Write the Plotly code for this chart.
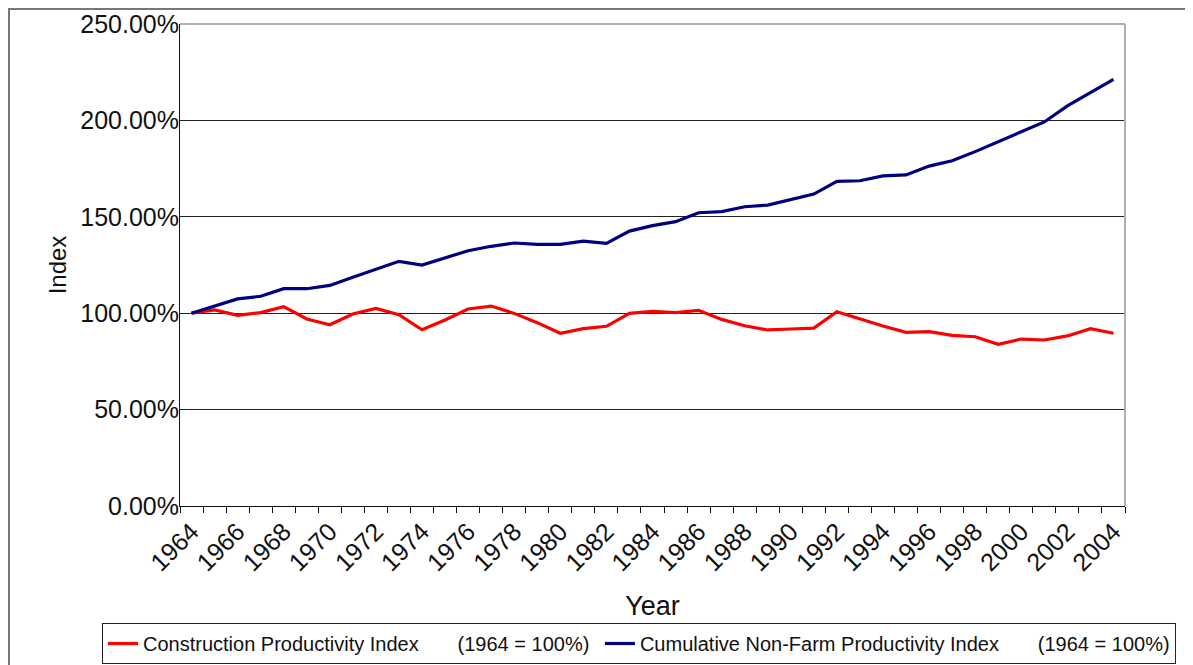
import plotly.graph_objects as go

years = list(range(1964, 2005))
construction = [100.0, 101.7, 98.9, 100.3, 103.4, 97.0, 94.0, 99.6, 102.5, 99.2,
                91.4, 96.5, 102.2, 103.7, 99.9, 95.1, 89.6, 92.0, 93.2, 99.9,
                100.9, 100.3, 101.5, 96.8, 93.5, 91.3, 91.8, 92.3, 100.8, 97.0,
                93.4, 90.1, 90.4, 88.5, 87.8, 83.9, 86.6, 86.1, 88.2, 92.0, 89.6]
nonfarm = [100.0, 103.7, 107.4, 108.8, 112.7, 112.7, 114.4, 118.6, 122.9, 126.9,
           125.0, 128.5, 132.4, 134.7, 136.4, 135.7, 135.7, 137.4, 136.2, 142.6,
           145.4, 147.5, 152.1, 152.7, 155.2, 156.1, 159.1, 161.8, 168.4, 168.7,
           171.2, 171.7, 176.3, 179.1, 183.8, 189.0, 194.0, 199.2, 207.5, 214.4, 221.3]
tick_years = list(range(1964, 2005, 2))
y_ticks = [0, 50, 100, 150, 200, 250]

sp = "\u00a0" * 7
names = ["Construction Productivity Index" + sp + "(1964 = 100%)" + "\u00a0",
         "Cumulative Non-Farm Productivity Index" + sp + "(1964 = 100%)"]

FONT = "Liberation Sans, Arial, sans-serif"
INK = "#111111"

fig = go.Figure()
fig.add_trace(go.Scatter(x=years, y=construction, mode="lines", name=names[0],
                         line=dict(color="#FF0000", width=3.2)))
fig.add_trace(go.Scatter(x=years, y=nonfarm, mode="lines", name=names[1],
                         line=dict(color="#000080", width=3.2)))

# page body has an 8px offset; figure coordinates = screen - 8
W, H = 1185, 657
L, R, T, B = 172, 1117, 16, 498
pw, ph = R - L, B - T

def px(x):
    return (x - 8 - L) / pw

def py(y):
    return (B - (y - 8)) / ph

fig.update_layout(
    width=W, height=H,
    margin=dict(l=L, r=W - R, t=T, b=H - B, pad=0, autoexpand=False),
    paper_bgcolor="white", plot_bgcolor="white",
    font=dict(family=FONT, color=INK),
    showlegend=True,
    legend=dict(orientation="h", x=px(102), xanchor="left", y=py(623), yanchor="top",
                bordercolor="#222222", borderwidth=1, bgcolor="white",
                font=dict(size=20, family=FONT, color=INK),
                itemwidth=30, tracegroupgap=0),
    xaxis=dict(range=[1963.5, 2004.5], tickmode="array", tickvals=tick_years,
               ticktext=[str(y) for y in tick_years], tickangle=-45,
               ticks="", showgrid=False, zeroline=False, automargin=False,
               showline=True, linecolor=INK, linewidth=1,
               tickfont=dict(size=25, family=FONT, color=INK),
               minor=dict(ticks="outside", ticklen=6, tickcolor=INK,
                          tick0=1963.5, dtick=1, showgrid=False),
               title=dict(text="Year", font=dict(size=27, family=FONT, color=INK),
                          standoff=20)),
    yaxis=dict(range=[0, 250], tickmode="array", tickvals=y_ticks,
               ticktext=[f"{v:.2f}%" for v in y_ticks],
               ticks="", showgrid=True, gridcolor="#222222", gridwidth=1,
               zeroline=False, showline=True, linecolor=INK, linewidth=1,
               ticklabelstandoff=-5, automargin=False,
               tickfont=dict(size=25, family=FONT, color=INK),
               title=dict(text="Index", font=dict(size=24, family=FONT, color=INK),
                          standoff=6)),
    shapes=[
        dict(type="line", xref="paper", yref="paper", x0=0, x1=1, y0=1, y1=1,
             line=dict(color="#b0b0b0", width=2), layer="above"),
        dict(type="line", xref="paper", yref="paper", x0=1, x1=1, y0=0, y1=1,
             line=dict(color="#b0b0b0", width=2), layer="above"),
        dict(type="rect", xref="paper", yref="paper", x0=px(9), x1=px(1215),
             y0=py(690), y1=py(9), line=dict(color="#777777", width=2), layer="below"),
    ],
)

fig.write_html("out.html")
